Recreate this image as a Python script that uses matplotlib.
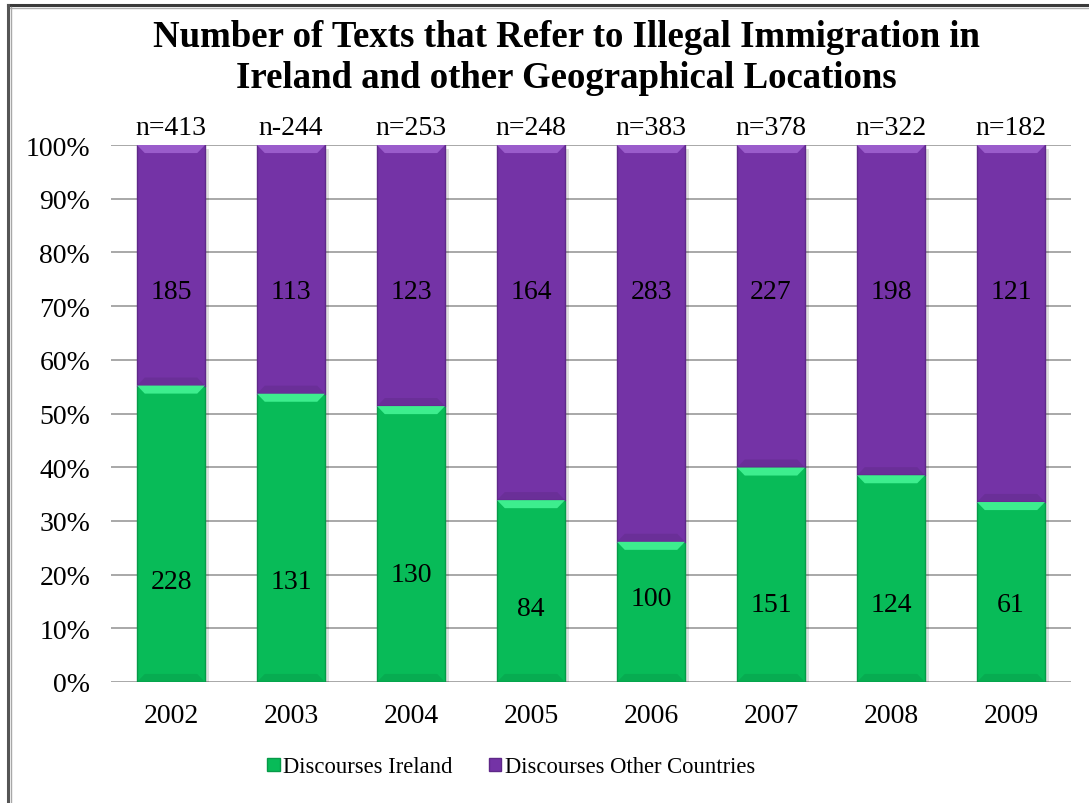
import matplotlib
matplotlib.use("Agg")
import matplotlib.pyplot as plt
from matplotlib.patches import Polygon, Patch
from matplotlib.lines import Line2D
import numpy as np

plt.rcParams["font.family"] = ["Liberation Serif", "DejaVu Serif"]

GREEN = "#08BB58"
GREEN_TOP = "#3DEE8E"
PURPLE = "#7433A6"
PURPLE_TOP = "#9A5CCB"

years = ["2002", "2003", "2004", "2005", "2006", "2007", "2008", "2009"]
ireland = [228, 131, 130, 84, 100, 151, 124, 61]
other = [185, 113, 123, 164, 283, 227, 198, 121]
n_labels = ["n=413", "n-244", "n=253", "n=248", "n=383", "n=378", "n=322", "n=182"]

# height (in %) where the Ireland counts sit inside the green bars
ireland_label_y = [18.8, 18.8, 20.1, 13.6, 15.5, 14.5, 14.5, 14.5]
other_label_y = 72.8

ireland = np.array(ireland, dtype=float)
other = np.array(other, dtype=float)
total = ireland + other
pct_ire = ireland / total * 100
pct_oth = other / total * 100

W, H = 1089, 804
fig = plt.figure(figsize=(W / 100, H / 100), dpi=100)
ax = fig.add_axes([111 / W, 1 - 683 / H, 960 / W, 537 / H])

x = np.arange(len(years))
bw = 0.567

ax.set_xlim(-0.5, len(years) - 0.5)
ax.set_ylim(0, 100)
ax.set_yticks(np.arange(0, 101, 10))
ax.set_yticklabels([f"{v}%" for v in range(0, 101, 10)])
ax.yaxis.grid(True, color="#9a9a9a", linewidth=1.2)
ax.set_axisbelow(True)
for s in ax.spines.values():
    s.set_visible(False)
ax.tick_params(axis="y", length=0, pad=15, labelsize=20)
ax.tick_params(axis="x", length=0, pad=15, labelsize=20)
ax.set_xticks(x)
ax.set_xticklabels(years)

# soft drop shadow behind each bar
ax.bar(x + 0.03, pct_ire + pct_oth, bw, bottom=-0.7, color="#000000", alpha=0.12, zorder=2)

bars_g = ax.bar(x, pct_ire, bw, color=GREEN, edgecolor="#079a48", linewidth=1.0, zorder=3)
bars_p = ax.bar(x, pct_oth, bw, bottom=pct_ire, color=PURPLE, edgecolor="#5e2888", linewidth=1.0, zorder=3)

# bevel: light strip on top of each segment, darker strip at the bottom
dx, dy = 0.065, 1.5
for bars, top_col in ((bars_g, GREEN_TOP), (bars_p, PURPLE_TOP)):
    for r in bars:
        x0, y0, w, h = r.get_x(), r.get_y(), r.get_width(), r.get_height()
        top = y0 + h
        ax.add_patch(Polygon([(x0, top), (x0 + w, top), (x0 + w - dx, top - dy), (x0 + dx, top - dy)],
                             closed=True, facecolor=top_col, edgecolor="none", zorder=4))
        ax.add_patch(Polygon([(x0, y0), (x0 + w, y0), (x0 + w - dx, y0 + dy), (x0 + dx, y0 + dy)],
                             closed=True, facecolor="#000000", alpha=0.08, edgecolor="none", zorder=4))

for i in range(len(years)):
    ax.text(x[i], ireland_label_y[i], f"{int(ireland[i])}", ha="center", va="center", fontsize=20, zorder=5)
    ax.text(x[i], other_label_y, f"{int(other[i])}", ha="center", va="center", fontsize=20, zorder=5)
    ax.text(x[i], 103.2, n_labels[i], ha="center", va="center", fontsize=20, clip_on=False)

fig.text(566 / W, 1 - 58 / H,
         "Number of Texts that Refer to Illegal Immigration in\nIreland and other Geographical Locations",
         ha="center", va="center", fontsize=26.5, fontweight="bold", linespacing=1.25)

handles = [Patch(facecolor=GREEN, edgecolor="#079a48"), Patch(facecolor=PURPLE, edgecolor="#5e2888")]
fig.legend(handles, ["Discourses Ireland", "Discourses Other Countries"], loc="center",
           bbox_to_anchor=(511 / W, 1 - 768 / H), ncol=2, frameon=False, fontsize=16.3,
           handlelength=0.55, handleheight=0.55, handletextpad=0.15, columnspacing=1.6)

# chart frame (top and left edges)
fig.add_artist(Line2D([8 / W, 1], [1 - 6 / H, 1 - 6 / H], color="#3a3a3a", linewidth=2.2))
fig.add_artist(Line2D([8 / W, 1], [1 - 8.5 / H, 1 - 8.5 / H], color="#b0b0b0", linewidth=1.0))
fig.add_artist(Line2D([8 / W, 8 / W], [0, 1 - 6 / H], color="#555555", linewidth=2.2))
fig.add_artist(Line2D([10.5 / W, 10.5 / W], [0, 1 - 8 / H], color="#a8a8a8", linewidth=1.0))

fig.savefig("out.png", dpi=100)
